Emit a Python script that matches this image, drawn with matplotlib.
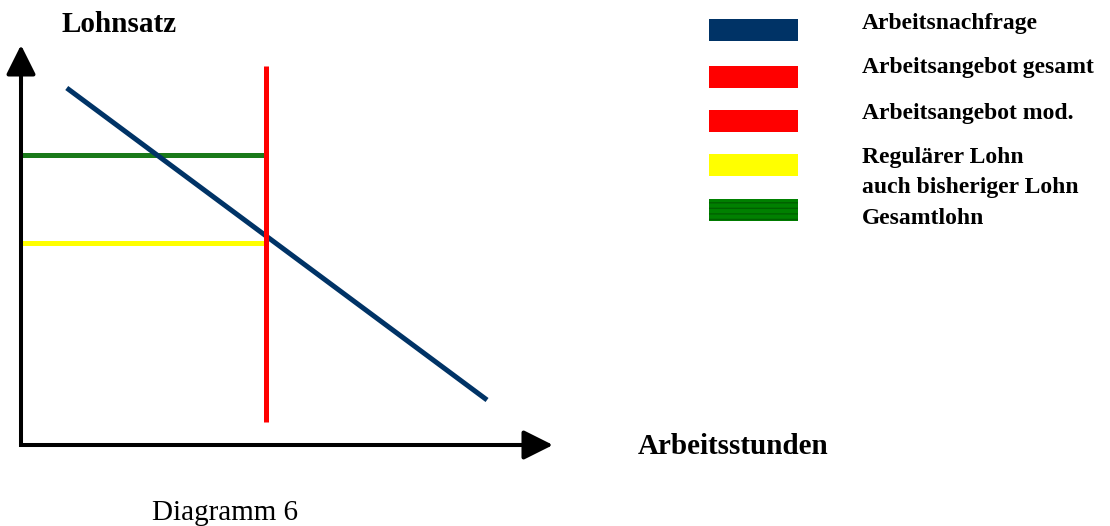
import matplotlib
matplotlib.use("Agg")
import matplotlib.pyplot as plt
from matplotlib.patches import Rectangle

# ---- data (axis units: 0..100 on both axes) ----
demand_x = [8.6, 87.6]
demand_y = [89.25, 11.25]
supply_x = 46.0
supply_y = [5.75, 94.75]
wage_regular = 50.5
wage_total = 72.5
wage_x = [0.0, 46.0]

legend_labels = ["Arbeitsnachfrage", "Arbeitsangebot gesamt", "Arbeitsangebot mod.",
                 "Regulärer Lohn\nauch bisheriger Lohn", "Gesamtlohn"]
legend_colors = ["#003366", "#ff0000", "#ff0000", "#ffff00", "#008000"]

ylabel = "Lohnsatz"
xlabel = "Arbeitsstunden"
caption = "Diagramm 6"

W, H = 1110, 526
fig = plt.figure(figsize=(W / 100, H / 100), dpi=100)
fig.patch.set_facecolor("white")

serif = ["Liberation Serif", "DejaVu Serif"]

# main axes: origin at pixel (21,445), x=100 at 553, y=100 at 45
ax = fig.add_axes([21 / W, (H - 445) / H, 532 / W, 400 / H])
ax.set_xlim(0, 100)
ax.set_ylim(0, 100)
ax.axis("off")

lw = 3.6
ax.plot(demand_x, demand_y, color="#003366", lw=lw, solid_capstyle="butt", clip_on=False, zorder=3)
ax.plot(wage_x, [wage_total, wage_total], color="#1a7a1a", lw=lw, solid_capstyle="butt", clip_on=False, zorder=2)
ax.plot(wage_x, [wage_regular, wage_regular], color="#ffff00", lw=lw, solid_capstyle="butt", clip_on=False, zorder=2)
ax.plot([supply_x, supply_x], supply_y, color="#ff0000", lw=lw, solid_capstyle="butt", clip_on=False, zorder=4)

# axis lines (L shape) and arrow heads
ax.plot([0, 0, 0.95], [0.95, 0, 0], transform=ax.transAxes, color="black", lw=2.9,
        solid_joinstyle="miter", solid_capstyle="projecting", clip_on=False, zorder=5)
astyle = "-|>,head_length=1.8,head_width=0.9"
ax.annotate("", xy=(1.0, 0.0), xytext=(0.9, 0.0), xycoords="axes fraction",
            arrowprops=dict(arrowstyle=astyle, mutation_scale=10, lw=2.9, color="black",
                            shrinkA=0, shrinkB=0), annotation_clip=False)
ax.annotate("", xy=(0.0, 1.0), xytext=(0.0, 0.9), xycoords="axes fraction",
            arrowprops=dict(arrowstyle=astyle, mutation_scale=10, lw=2.9, color="black",
                            shrinkA=0, shrinkB=0), annotation_clip=False)

# overlay in pixel coordinates for texts and legend
ov = fig.add_axes([0, 0, 1, 1], zorder=-1)
ov.set_xlim(0, W)
ov.set_ylim(H, 0)
ov.axis("off")

ov.text(62, 25, ylabel, fontsize=21, fontweight="bold", family=serif, va="center", ha="left")
ov.text(638, 446, xlabel, fontsize=21, fontweight="bold", family=serif, va="center", ha="left")
ov.text(152, 520, caption, fontsize=21, family=serif, va="baseline", ha="left")

sw_top = [19, 66, 110, 154, 199]
text_y = [23, 68, 113, 158, 218]
for lab, col, top, ty in zip(legend_labels, legend_colors, sw_top, text_y):
    rect = Rectangle((709, top), 89, 22, facecolor=col, edgecolor="none")
    if lab == "Gesamtlohn":
        rect.set_hatch("---")
        rect.set_edgecolor("#006000")
        rect.set_linewidth(0)
    ov.add_patch(rect)
    for i, line in enumerate(lab.split("\n")):
        ov.text(862, ty + 30 * i, line, fontsize=17, fontweight="bold", family=serif,
                va="center", ha="left")

fig.savefig("out.png", dpi=100)
